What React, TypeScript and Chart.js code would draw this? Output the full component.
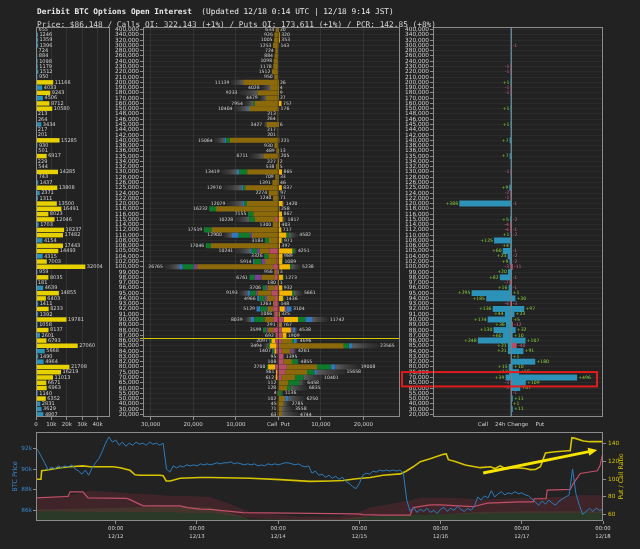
import React, { useEffect, useRef } from 'react';
import { Chart, registerables } from 'chart.js';

Chart.register(...registerables);

const FONT = 'DejaVu Sans';
const BG = '#222222';
const FRAME = '#8c8c8c';
const TXT = '#d0d0d0';
const PRICE = 86148;

// ---------- strikes & open interest ----------
const strikes = [400000, 340000, 320000, 300000, 280000, 260000, 240000, 230000, 220000, 210000,
  200000, 190000, 180000, 170000, 160000, 150000, 148000, 146000, 145000, 144000, 142000, 140000,
  138000, 136000, 135000, 134000, 132000, 130000, 128000, 126000, 125000, 124000, 122000, 120000,
  118000, 116000, 115000, 114000, 112000, 110000, 108000, 106000, 105000, 104000, 102000, 100000,
  99000, 98000, 97000, 96000, 95000, 94000, 93000, 92000, 91000, 90000, 89000, 88000, 87000, 86000,
  85000, 84000, 83000, 82000, 80000, 75000, 70000, 65000, 60000, 55000, 50000, 40000, 30000, 20000];

const totalOI = [655, 1246, 1359, 1396, 724, 884, 1098, 1179, 1512, 950,
  11166, 4033, 9243, 4506, 8712, 10580, 213, 264, 3434, 217, 201, 15285,
  930, 501, 6917, 229, 544, 14285, 743, 1437, 13808, 2371, 1311, 13500,
  16491, 8023, 12046, 1703, 18237, 17482, 4154, 17443, 14493, 4315, 7003, 32004,
  959, 8035, 181, 4639, 14855, 6403, 1411, 8233, 1392, 19781, 1058, 8137, 2601, 6793,
  27060, 5668, 1490, 4964, 21708, 16219, 11013, 6671, 6963, 1140, 6352, 2831, 3629, 4807];

const callsOI = [634, 926, 1005, 1253, 724, 884, 1098, 1178, 1512, 950,
  11139, 4028, 9233, 4479, 7954, 10404, 213, 264, 3427, 217, 201, 15064,
  930, 489, 6711, 227, 538, 13419, 709, 1391, 12970, 2274, 1240, 12079,
  16232, 7155, 10228, 1300, 17519, 12900, 3183, 17046, 10241, 3326, 5914, 26765,
  956, 6761, 180, 3706, 9193, 4966, 1263, 5129, 1066, 8039, 291, 3599, 692, 2097,
  3494, 1407, 95, 108, 2700, 561, 612, 112, 128, 4, 102, 45, 71, 63];

const putsOI = [20, 320, 353, 143, 0, 0, 0, 0, 0, 0,
  26, 4, 9, 27, 757, 176, 0, 0, 6, 0, 0, 221,
  0, 13, 205, 2, 5, 865, 33, 46, 837, 97, 71, 1420,
  258, 867, 1817, 403, 717, 4582, 971, 397, 4251, 989, 1089, 5238,
  3, 1273, 1, 932, 5661, 1436, 148, 3104, 325, 11742, 767, 4538, 1909, 4696,
  23565, 4261, 1395, 4855, 19008, 15658, 10401, 6458, 6835, 1136, 6250, 2785, 3558, 4744];

// expiry breakdown (keyed by strike in thousands), the rest of each bar is the main expiry
const callPinkK: Record<number, number> = { 115: 800, 105: 2100, 104: 400, 102: 400, 100: 1200, 99: 500, 98: 800, 96: 800, 95: 1600, 94: 800, 93: 1000, 92: 1200, 91: 900, 90: 1200, 89: 250, 88: 1200, 87: 600, 86: 700, 85: 400, 84: 500, 83: 80, 82: 90, 80: 700, 75: 300, 70: 300 };
const callPurpleK: Record<number, number> = { 110: 400, 105: 600, 102: 800, 100: 800, 98: 1600, 96: 400, 95: 400, 94: 500, 92: 200, 88: 400 };
const callGreenK: Record<number, number> = { 160: 400, 140: 900, 130: 1900, 125: 500, 120: 600, 118: 1600, 116: 1300, 115: 1300, 112: 1800, 110: 2700, 108: 1000, 106: 1200, 105: 1300, 104: 1000, 102: 1800, 100: 2600, 98: 1200, 96: 800, 95: 1300, 94: 1300, 92: 1600, 90: 2400, 88: 800, 86: 300, 85: 300, 84: 300, 80: 300 };
const callBlueK: Record<number, number> = { 150: 400, 140: 400, 130: 500, 125: 400, 120: 400, 110: 1600, 105: 400, 102: 200, 100: 800, 95: 600, 94: 500, 92: 900, 90: 800, 86: 200, 84: 200 };
const callGrayK: Record<number, number> = { 200: 2900, 190: 2100, 180: 4400, 170: 1600, 160: 2000, 150: 3100, 145: 700, 140: 2400, 135: 3200, 130: 3700, 125: 4300, 120: 3700, 115: 3400, 110: 2000, 105: 3600, 100: 3500, 95: 2000, 90: 1600, 85: 1200 };

const putPinkK: Record<number, number> = { 100: 200, 95: 200, 92: 400, 90: 1300, 89: 500, 88: 800, 87: 1000, 86: 800, 85: 400, 84: 800, 83: 1200, 82: 1200, 80: 2000, 75: 1600, 70: 800 };
const putPurpleK: Record<number, number> = { 92: 400, 88: 400, 84: 600 };
const putGreenK: Record<number, number> = { 110: 600, 108: 200, 105: 500, 102: 200, 100: 300, 98: 200, 95: 400, 94: 200, 90: 1700, 86: 500, 85: 1200, 82: 1300, 80: 3300, 75: 1700, 70: 2000, 65: 2600, 60: 800, 55: 800 };
const putBlueK: Record<number, number> = { 92: 1200, 90: 1600, 88: 600, 86: 600, 85: 800, 80: 1000, 75: 600, 50: 800 };
const putGrayK: Record<number, number> = { 120: 400, 115: 800, 110: 2100, 105: 450, 100: 2200, 95: 2000, 94: 150, 90: 3800, 88: 600, 86: 400, 85: 6200, 84: 800, 83: 195, 82: 350, 80: 5600, 75: 6600, 70: 4500, 65: 1500, 60: 4000, 55: 336, 50: 3850, 40: 1600, 30: 2700, 20: 3900 };

// 24h change (keyed by strike in thousands)
const callChgK: Record<number, number> = { 230: -1, 220: -1, 200: 1, 190: -1, 180: -1, 150: 1, 145: 1, 140: 7, 135: 7, 130: -1, 125: 9, 124: -2, 122: -1, 120: 388, 115: 5, 114: -4, 112: -4, 110: 1, 108: 125, 106: 4, 105: 60, 104: 23, 102: 9, 100: -3, 99: 20, 98: 82, 97: -7, 96: 16, 95: 295, 94: 185, 93: -4, 92: 136, 91: 44, 90: 174, 89: 36, 88: 130, 87: 60, 86: 248, 85: 21, 84: 21, 80: 15, 75: 12, 70: 39, 65: -3, 60: -3 };
const putChgK: Record<number, number> = { 300: -1, 120: -1, 115: -2, 112: -1, 110: -2, 105: -1, 104: -2, 102: -2, 100: -11, 98: -1, 96: -1, 95: 1, 94: 30, 93: -3, 92: 97, 91: 23, 90: 5, 89: -12, 88: 32, 87: 10, 86: 107, 85: -40, 84: 91, 83: 1, 82: 180, 80: 10, 75: 58, 70: 496, 65: 109, 60: 67, 55: -1, 50: 11, 40: 1, 30: 11 };
const highlightStrikes = [70000, 65000];

// ---------- ticks ----------
const leftTicks = [0, 10000, 20000, 30000, 40000];
const midTicks = [-30000, -20000, -10000, 0, 10000, 20000];
const timeTicks = [24, 48, 72, 96, 120, 144, 168];
const btcTicks = [86000, 88000, 90000, 92000];
const pcrTicks = [60, 80, 100, 120, 140];

// ---------- time series (hours since 12/11 00:00 UTC) ----------
const btcPriceK = [
  92.2, 91.8, 91.2, 90.6, 89.9, 90.2, 90.0, 90.3, 90.1, 90.3, 90.2, 90.4, 90.0, 89.8, 89.5, 89.9, 89.4, 90.1, 90.6, 91.0, 91.7, 92.5, 93.1, 92.6,
  92.8, 92.3, 92.6, 92.2, 92.5, 92.3, 92.6, 92.4, 92.5, 92.3, 92.6, 92.4, 92.5, 92.3, 92.5, 90.0, 89.7, 90.3, 90.1, 90.3, 90.2, 90.4, 90.3, 90.4,
  90.3, 90.5, 90.4, 90.5, 90.4, 90.5, 90.6, 90.5, 90.6, 90.6, 90.7, 90.5, 90.6, 90.5, 90.4, 90.5, 90.4, 90.5, 90.3, 90.4, 90.3, 90.5, 90.4, 90.5,
  90.4, 90.5, 90.6, 90.6, 90.5, 90.4, 90.5, 90.3, 90.2, 90.3, 89.6, 89.8, 89.4, 89.5, 89.2, 89.4, 89.1, 89.3, 89.0, 89.2, 88.8, 88.6, 88.3, 88.1,
  88.6, 89.4, 89.6, 89.5, 89.8, 89.7, 89.9, 89.8, 89.9, 89.8, 89.9, 89.8, 89.9, 89.6, 87.0, 85.9, 86.3, 85.8, 86.1, 85.9, 86.2, 85.8, 86.0, 85.7,
  86.1, 86.3, 85.9, 86.2, 86.0, 86.4, 86.1, 85.9, 86.2, 86.0, 86.4, 87.3, 87.0, 87.4, 87.2, 87.9, 87.3, 87.6, 87.8, 87.5, 87.7, 87.6, 87.8, 87.6,
  87.7, 87.5, 87.4, 87.1, 86.8, 86.5, 86.9, 86.6, 87.0, 86.7, 86.5, 86.9, 87.1, 87.3, 87.5, 90.0, 87.6, 86.5, 85.6, 85.9, 86.2, 85.9, 86.2, 86.0,
  86.1];

const pcrHours = [0.43, 1.9, 2.1, 3.1, 4.6, 7.5, 10.5, 14.3, 16.4, 19.4, 23.2, 25.3, 28.2, 29.7, 31.2, 37.1, 38.0, 38.9, 40.1, 43.0, 48.9, 51.9, 63.7, 72.6, 81.4, 87.4, 91.2, 95.1, 99.2, 103.0, 108.1, 109.8, 111.9, 114.0, 116.9, 120.8, 121.7, 122.3, 124.3, 127.3, 131.7, 134.7, 136.1, 137.6, 139.1, 142.1, 145.0, 146.5, 148.0, 149.5, 151.0, 153.9, 157.7, 158.3, 158.8, 159.8, 162.2, 164.2, 168];
const pcrValues = [100, 100, 109.5, 110, 111, 113, 114, 115, 114, 114, 114, 113, 110, 105, 104.5, 104.5, 104, 98, 98, 101, 102, 102, 101, 99.5, 97.6, 98, 98.5, 100.5, 102, 104.4, 106, 109, 114, 119.8, 123, 128, 128.5, 122, 120, 116, 113, 114, 112, 115, 112, 113, 112, 110.8, 111, 114, 129.5, 131, 132, 132, 146.8, 146, 143, 142.3, 142.3];

const redHours = [0.43, 9.5, 9.9, 10.5, 14.3, 15.8, 27.2, 28.2, 32.1, 38.9, 43.0, 45.1, 48.9, 51.9, 61.6, 95.3, 97.1, 103.0, 111.0, 111.9, 116.9, 119.9, 129.6, 133.8, 143.5, 147.4, 147.7, 151.2, 151.5, 158.3, 159.2, 161.3, 166.3, 167.1, 168];
const redValues = [79, 80.5, 80.5, 85.8, 85.8, 79, 78.5, 77, 70, 70, 70, 68, 66.2, 66, 62.4, 61, 60, 59.6, 59.6, 68, 71, 71, 69, 73, 74.5, 74.5, 78, 78, 87.8, 88.5, 95, 106.4, 109.5, 115, 130];

const bandHours = [0.43, 7.5, 12, 16.4, 22.3, 28.2, 34.1, 40.1, 45.9, 51.9, 57.8, 63.7, 78.5, 90.3, 95.3, 99.2, 105.1, 111, 114, 122.8, 131.7, 137.6, 146.5, 155.4, 161.3, 168];
const bandUpper = [79, 81, 83, 87, 86, 84, 83, 81, 81, 80, 72, 63, 58, 58, 62, 68, 72, 76, 79, 79, 77, 78, 79, 80, 82, 82];
const bandLower = [64, 64, 63, 63, 63, 63, 63, 63, 62, 62, 59, 56, 54, 54, 55, 58, 59, 60, 61, 61, 61, 62, 62, 62, 62, 62];

const greenHours = [0.43, 16.4, 28.2, 40.1, 51.9, 57.8, 63.7, 90.3, 95.3, 105.1, 111, 122.8, 131.7, 146.5, 168];
const greenTop = [66, 67, 68, 70, 68, 62, 55, 55, 57, 59, 60, 61, 63, 64, 64];

const arrowFrom = [132.6, 107];
const arrowTo = [166.3, 133];

// ---------- colours ----------
const YEL = '#e6d000';
const BLU = '#2c92b8';
const GOLD = '#8c6a0c';
const BRIGHT = '#f2b400';
const PINK = '#b84d68';
const PURPLE = '#7a3f98';
const GREEN = '#0f7a2c';
const MBLUE = '#2f78c0';
const POS = '#86d040';
const NEG = '#c4608a';
const BTCC = '#3a86c8';
const PCRC = '#d6c400';

const strikeLabels = strikes.map((s) => s.toLocaleString('en-US'));
const rec = (r: Record<number, number>, s: number) => r[s / 1000] ?? 0;
const partsOf = (recs: Record<number, number>[]) => strikes.map((s) => recs.reduce((a, r) => a + rec(r, s), 0));

const frame = () => ({
  id: 'frame',
  afterDraw(chart: any) {
    const { ctx, chartArea: a } = chart;
    ctx.save();
    ctx.strokeStyle = FRAME;
    ctx.lineWidth = 1;
    ctx.strokeRect(Math.round(a.left) + 0.5, Math.round(a.top) + 0.5, Math.round(a.right - a.left) - 1, Math.round(a.bottom - a.top) - 1);
    ctx.restore();
  },
});

const base = (padding: any) => ({
  responsive: false,
  maintainAspectRatio: false,
  animation: false,
  events: [],
  layout: { padding },
  plugins: { legend: { display: false }, tooltip: { enabled: false } },
});

const setTicks = (vals: number[]) => (s: any) => { s.ticks = vals.map((value) => ({ value })); };

function leftConfig(): any {
  const labels = {
    id: 'leftLabels',
    afterDatasetsDraw(chart: any) {
      const { ctx, scales: { x, y } } = chart;
      ctx.save();
      ctx.font = `5px ${FONT}`;
      ctx.fillStyle = TXT;
      ctx.textAlign = 'left';
      ctx.textBaseline = 'middle';
      totalOI.forEach((v, i) => ctx.fillText(String(v), x.getPixelForValue(v) + 1.5, y.getPixelForValue(i)));
      ctx.restore();
    },
  };
  return {
    type: 'bar',
    data: {
      labels: strikeLabels,
      datasets: [{ data: totalOI, backgroundColor: totalOI.map((v) => (v > 6000 ? YEL : BLU)), barPercentage: 0.85, categoryPercentage: 1, borderWidth: 0 }],
    },
    options: {
      ...base({ left: 36, right: 530, top: 27, bottom: 120 }),
      indexAxis: 'y',
      scales: {
        x: {
          type: 'linear', min: 0, max: 48000,
          afterBuildTicks: setTicks(leftTicks),
          afterFit: (s: any) => { s.height = 12; },
          ticks: { color: TXT, font: { size: 5.5 }, padding: 1, maxRotation: 0, callback: (v: number) => (v === 0 ? '0' : `${v / 1000}k`) },
          grid: { color: 'rgba(255,255,255,0.08)', tickLength: 3, tickColor: FRAME },
          border: { display: false },
        },
        y: { display: false },
      },
    },
    plugins: [frame(), labels],
  };
}

// fading gray tail drawn from the end of the coloured part to the end of the bar
const grayTail = (totals: number[], sign: number) => (c: any) => {
  const chart = c.chart;
  const x = chart.scales && chart.scales.x;
  const i = c.dataIndex;
  if (!x || i === undefined || !chart.ctx) return '#454545';
  const g = (sign > 0 ? putGrayK : callGrayK)[strikes[i] / 1000] ?? 0;
  const end = x.getPixelForValue(sign * totals[i]);
  const start = x.getPixelForValue(sign * (totals[i] - g));
  if (!isFinite(end) || !isFinite(start) || Math.abs(end - start) < 1) return '#454545';
  const grad = chart.ctx.createLinearGradient(start, 0, end, 0);
  grad.addColorStop(0, 'rgba(95,95,95,1)');
  grad.addColorStop(1, 'rgba(60,60,60,0.25)');
  return grad;
};

function midConfig(): any {
  const cParts = [callPinkK, callPurpleK, callGreenK, callBlueK, callGrayK];
  const pParts = [putPinkK, putPurpleK, putGreenK, putBlueK, putGrayK];
  const cOther = partsOf(cParts);
  const pOther = partsOf(pParts);
  const callMain = callsOI.map((v, i) => Math.max(0, v - cOther[i]));
  const putMain = putsOI.map((v, i) => Math.max(0, v - pOther[i]));
  const ds = (vals: number[], color: any, sign: number) => ({
    data: vals.map((v) => sign * v), backgroundColor: color, stack: 'oi', barPercentage: 0.97, categoryPercentage: 1, borderWidth: 0,
  });
  const col = (r: Record<number, number>) => strikes.map((s) => rec(r, s));
  const callTot = callsOI.map((v, i) => Math.max(v, cOther[i]));
  const putTot = putsOI.map((v, i) => Math.max(v, pOther[i]));
  const datasets = [
    ds(col(callPinkK), PINK, -1),
    ds(callMain, strikes.map((s) => (s >= PRICE ? GOLD : BRIGHT)), -1),
    ds(col(callPurpleK), PURPLE, -1),
    ds(col(callGreenK), GREEN, -1),
    ds(col(callBlueK), MBLUE, -1),
    ds(col(callGrayK), grayTail(callTot, -1), -1),
    ds(col(putPinkK), PINK, 1),
    ds(putMain, strikes.map((s) => (s <= PRICE ? GOLD : BRIGHT)), 1),
    ds(col(putPurpleK), PURPLE, 1),
    ds(col(putGreenK), GREEN, 1),
    ds(col(putBlueK), MBLUE, 1),
    ds(col(putGrayK), grayTail(putTot, 1), 1),
  ];
  const deco = {
    id: 'midDeco',
    afterDatasetsDraw(chart: any) {
      const { ctx, scales: { x, y }, chartArea: a } = chart;
      ctx.save();
      ctx.font = `4.6px ${FONT}`;
      ctx.fillStyle = TXT;
      ctx.textBaseline = 'middle';
      strikes.forEach((s, i) => {
        const yy = y.getPixelForValue(i);
        if (callsOI[i] > 0) { ctx.textAlign = 'right'; ctx.fillText(String(callsOI[i]), x.getPixelForValue(-callTot[i]) - 1.5, yy); }
        if (putsOI[i] > 0) { ctx.textAlign = 'left'; ctx.fillText(String(putsOI[i]), x.getPixelForValue(putTot[i]) + 1.5, yy); }
      });
      const below = strikes.findIndex((s) => s < PRICE);
      const py = Math.round(y.getPixelForValue(below - 0.5)) + 0.5;
      ctx.strokeStyle = '#d8c800';
      ctx.lineWidth = 1;
      ctx.beginPath();
      ctx.moveTo(a.left - 3, py);
      ctx.lineTo(a.right, py);
      ctx.stroke();
      ctx.restore();
    },
  };
  return {
    type: 'bar',
    data: { labels: strikeLabels, datasets },
    options: {
      ...base({ left: 113, right: 240, top: 27, bottom: 120 }),
      indexAxis: 'y',
      scales: {
        x: {
          type: 'linear', stacked: true, min: -31800, max: 28600,
          afterBuildTicks: setTicks(midTicks),
          afterFit: (s: any) => { s.height = 12; },
          ticks: { color: TXT, font: { size: 5.5 }, padding: 1, maxRotation: 0, callback: (v: number) => (v === 0 ? 'Call  Put' : Math.abs(v).toLocaleString('en-US')) },
          grid: { color: 'rgba(255,255,255,0.07)', tickLength: 3, tickColor: FRAME },
          border: { display: false },
        },
        y: {
          stacked: true,
          afterFit: (s: any) => { s.width = 30; },
          ticks: { autoSkip: false, color: TXT, font: { size: 5.8 }, padding: 1 },
          grid: { offset: false, color: 'rgba(255,255,255,0.045)', tickLength: 3, tickColor: FRAME },
          border: { display: false },
        },
      },
    },
    plugins: [frame(), deco],
  };
}

function rightConfig(): any {
  const cArr = strikes.map((s) => callChgK[s / 1000] ?? 0);
  const pArr = strikes.map((s) => putChgK[s / 1000] ?? 0);
  const fmt = (v: number) => (v > 0 ? `+${v}` : `${v}`);
  const deco = {
    id: 'rightDeco',
    afterDatasetsDraw(chart: any) {
      const { ctx, scales: { x, y }, chartArea: a } = chart;
      ctx.save();
      const x0 = Math.round(x.getPixelForValue(0)) + 0.5;
      ctx.strokeStyle = '#7c7c7c';
      ctx.lineWidth = 1;
      ctx.beginPath();
      ctx.moveTo(x0, a.top);
      ctx.lineTo(x0, a.bottom);
      ctx.stroke();
      ctx.font = `4.6px ${FONT}`;
      ctx.textBaseline = 'middle';
      strikes.forEach((s, i) => {
        const k = s / 1000;
        const yy = y.getPixelForValue(i);
        const c = callChgK[k];
        if (c !== undefined) { ctx.textAlign = 'right'; ctx.fillStyle = c > 0 ? POS : NEG; ctx.fillText(fmt(c), x.getPixelForValue(-Math.abs(c)) - 1.5, yy); }
        const p = putChgK[k];
        if (p !== undefined) { ctx.textAlign = 'left'; ctx.fillStyle = p > 0 ? POS : NEG; ctx.fillText(fmt(p), x.getPixelForValue(Math.abs(p)) + 1.5, yy); }
      });
      ctx.font = `5.5px ${FONT}`;
      ctx.fillStyle = TXT;
      ctx.textAlign = 'center';
      ctx.fillText('Call    24h Change    Put', x.getPixelForValue(0), a.bottom + 8);
      const row = (a.bottom - a.top) / strikes.length;
      const t = y.getPixelForValue(strikes.indexOf(highlightStrikes[0])) - 1.02 * row;
      const b = y.getPixelForValue(strikes.indexOf(highlightStrikes[1])) + 0.7 * row;
      ctx.strokeStyle = '#e01c1c';
      ctx.lineWidth = 2;
      ctx.strokeRect(a.left - 31, t, a.right - 6 - (a.left - 31), b - t);
      ctx.restore();
    },
  };
  return {
    type: 'bar',
    data: {
      labels: strikeLabels,
      datasets: [
        { data: cArr.map((v) => -Math.abs(v)), backgroundColor: cArr.map((v) => (v >= 0 ? BLU : PINK)), stack: 'c', barPercentage: 1, categoryPercentage: 1, borderWidth: 0 },
        { data: pArr.map((v) => Math.abs(v)), backgroundColor: pArr.map((v) => (v >= 0 ? BLU : PINK)), stack: 'c', barPercentage: 1, categoryPercentage: 1, borderWidth: 0 },
      ],
    },
    options: {
      ...base({ left: 403, right: 37, top: 27, bottom: 132 }),
      indexAxis: 'y',
      scales: {
        x: { type: 'linear', stacked: true, min: -589, max: 694, display: false },
        y: {
          stacked: true,
          afterFit: (s: any) => { s.width = 30; },
          ticks: { autoSkip: false, color: TXT, font: { size: 5.8 }, padding: 1 },
          grid: { offset: false, color: 'rgba(255,255,255,0.045)', tickLength: 3, tickColor: FRAME },
          border: { display: false },
        },
      },
    },
    plugins: [frame(), deco],
  };
}

function bottomConfig(): any {
  const pts = (xs: number[], ys: number[]) => xs.map((x, i) => ({ x, y: ys[i] }));
  const none = 'rgba(0,0,0,0)';
  const deco = {
    id: 'bottomDeco',
    afterDatasetsDraw(chart: any) {
      const { ctx, scales: { x, y1 }, chartArea: a } = chart;
      ctx.save();
      const x0 = x.getPixelForValue(arrowFrom[0]);
      const y0 = y1.getPixelForValue(arrowFrom[1]);
      const x1 = x.getPixelForValue(arrowTo[0]);
      const yA = y1.getPixelForValue(arrowTo[1]);
      const ang = Math.atan2(yA - y0, x1 - x0);
      const hl = 9;
      ctx.strokeStyle = '#f5e400';
      ctx.fillStyle = '#f5e400';
      ctx.lineWidth = 3;
      ctx.beginPath();
      ctx.moveTo(x0, y0);
      ctx.lineTo(x1 - Math.cos(ang) * hl * 0.8, yA - Math.sin(ang) * hl * 0.8);
      ctx.stroke();
      ctx.beginPath();
      ctx.moveTo(x1, yA);
      ctx.lineTo(x1 - hl * Math.cos(ang) + 4 * Math.sin(ang), yA - hl * Math.sin(ang) - 4 * Math.cos(ang));
      ctx.lineTo(x1 - hl * Math.cos(ang) - 4 * Math.sin(ang), yA - hl * Math.sin(ang) + 4 * Math.cos(ang));
      ctx.closePath();
      ctx.fill();
      const my = (a.top + a.bottom) / 2;
      ctx.textAlign = 'center';
      ctx.textBaseline = 'middle';
      ctx.font = `6.5px ${FONT}`;
      ctx.fillStyle = BTCC;
      ctx.translate(15, my);
      ctx.rotate(-Math.PI / 2);
      ctx.fillText('BTC Price', 0, 0);
      ctx.setTransform(1, 0, 0, 1, 0, 0);
      ctx.font = `6.3px ${FONT}`;
      ctx.fillStyle = PCRC;
      ctx.translate(621, my);
      ctx.rotate(-Math.PI / 2);
      ctx.fillText('Put / Call Ratio', 0, 0);
      ctx.restore();
    },
  };
  return {
    type: 'line',
    data: {
      datasets: [
        { data: btcPriceK.map((v, i) => ({ x: i, y: v * 1000 })), yAxisID: 'y', borderColor: '#2d7dbd', borderWidth: 1, pointRadius: 0, fill: false, tension: 0 },
        { data: pts(pcrHours, pcrValues), yAxisID: 'y1', borderColor: PCRC, borderWidth: 1.6, pointRadius: 0, fill: false },
        { data: pts(redHours, redValues), yAxisID: 'y1', borderColor: '#c24f68', borderWidth: 1.2, pointRadius: 0, fill: false },
        { data: pts(bandHours, bandUpper), yAxisID: 'y1', borderColor: none, borderWidth: 0, pointRadius: 0, fill: '+1', backgroundColor: 'rgba(125,45,58,0.33)' },
        { data: pts(bandHours, bandLower), yAxisID: 'y1', borderColor: none, borderWidth: 0, pointRadius: 0, fill: false },
        { data: pts(greenHours, greenTop), yAxisID: 'y1', borderColor: none, borderWidth: 0, pointRadius: 0, fill: 'start', backgroundColor: '#2b3a28' },
      ],
    },
    options: {
      ...base({ left: 0, right: 0, top: 432, bottom: 7 }),
      scales: {
        x: {
          type: 'linear', min: 0.43, max: 168,
          afterBuildTicks: setTicks(timeTicks),
          afterFit: (s: any) => { s.height = 21; },
          ticks: { color: TXT, font: { size: 5.3, lineHeight: 1.5 }, padding: 1, maxRotation: 0, callback: (v: number) => ['00:00', `12/${11 + v / 24}`] },
          grid: { drawOnChartArea: false, tickLength: 3, color: FRAME },
          border: { display: false },
        },
        y: {
          position: 'left', min: 84970, max: 93580,
          afterBuildTicks: setTicks(btcTicks),
          afterFit: (s: any) => { s.width = 36; },
          ticks: { color: BTCC, font: { size: 5.8 }, padding: 1, callback: (v: number) => `${v / 1000}k` },
          grid: { drawOnChartArea: false, tickLength: 3, color: FRAME },
          border: { display: false },
        },
        y1: {
          position: 'right', min: 52.9, max: 153.2,
          afterBuildTicks: setTicks(pcrTicks),
          afterFit: (s: any) => { s.width = 37; },
          ticks: { color: PCRC, font: { size: 5.8 }, padding: 2, callback: (v: number) => String(v) },
          grid: { drawOnChartArea: false, tickLength: 3, color: FRAME },
          border: { display: false },
        },
      },
    },
    plugins: [frame(), deco],
  };
}

export default function App() {
  const r1 = useRef<HTMLCanvasElement>(null);
  const r2 = useRef<HTMLCanvasElement>(null);
  const r3 = useRef<HTMLCanvasElement>(null);
  const r4 = useRef<HTMLCanvasElement>(null);

  useEffect(() => {
    Chart.defaults.font.family = FONT;
    const charts = [
      new Chart(r1.current as HTMLCanvasElement, leftConfig()),
      new Chart(r2.current as HTMLCanvasElement, midConfig()),
      new Chart(r3.current as HTMLCanvasElement, rightConfig()),
      new Chart(r4.current as HTMLCanvasElement, bottomConfig()),
    ];
    return () => { charts.forEach((c) => c.destroy()); };
  }, []);

  const cv: React.CSSProperties = { position: 'absolute', left: 0, top: 0 };
  const head: React.CSSProperties = {
    position: 'absolute', left: 37, fontFamily: '"DejaVu Sans Mono", monospace', fontSize: 7.8, lineHeight: '10px', whiteSpace: 'pre',
  };
  return (
    <div style={{ position: 'fixed', left: 0, top: 0, width: 640, height: 549, background: BG, overflow: 'hidden' }}>
      <canvas ref={r1} width={640} height={549} style={cv} />
      <canvas ref={r2} width={640} height={549} style={cv} />
      <canvas ref={r3} width={640} height={549} style={cv} />
      <canvas ref={r4} width={640} height={549} style={cv} />
      <div style={{ ...head, top: 7, color: '#e8e8e8' }}>
        <b>Deribit BTC Options Open Interest</b>{'  (Updated 12/18 0:14 UTC | 12/18 9:14 JST)'}
      </div>
      <div style={{ ...head, top: 20, color: '#d4d4d4' }}>
        Price: $86,148 / Calls OI: 322,143 (+1%) / Puts OI: 173,611 (+1%) / PCR: 142.85 (+8%)
      </div>
    </div>
  );
}
